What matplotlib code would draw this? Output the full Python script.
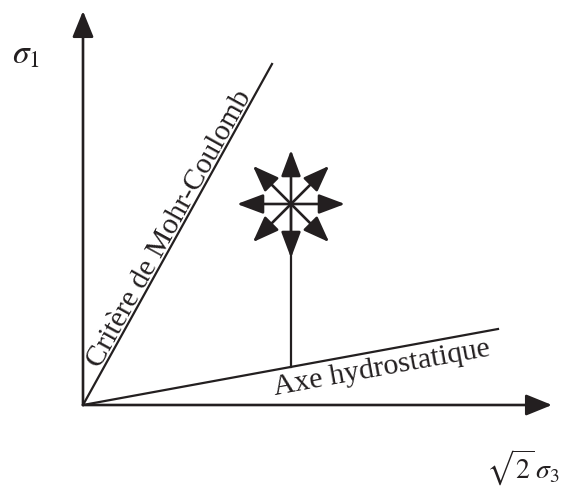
import numpy as np
import matplotlib.pyplot as plt

plt.rcParams['font.family'] = ['Liberation Serif', 'DejaVu Serif']
plt.rcParams['mathtext.fontset'] = 'stix'

# schema en coordonnees locales (origine = intersection des axes)
axe_x_fin = 469
axe_y_fin = 394
mohr_fin = (189, 341)
hydro_fin = (415, 76)
point_x = 208
etoile_y = 201
etoile_angles = [0, 45, 90, 135, 180, 225, 270, 315]
etoile_long = 54

label_s1 = r'$\sigma_1$'
label_s3 = r'$\sqrt{2}\,\sigma_3$'
label_mohr = 'Critère de Mohr-Coulomb'
label_hydro = 'Axe hydrostatique'

noir = '#231f20'

fig = plt.figure(figsize=(5.66, 4.89), dpi=100)
ax = fig.add_axes([0, 0, 1, 1])
ax.set_xlim(-83, 483)
ax.set_ylim(-83, 406)
ax.set_aspect('equal')
ax.axis('off')


def fleche(x0, y0, x1, y1, hl=1.6, hw=0.65):
    ax.annotate('', xy=(x1, y1), xytext=(x0, y0),
                arrowprops=dict(arrowstyle='-|>,head_length=%s,head_width=%s' % (hl, hw),
                                lw=1.9, color=noir, shrinkA=0, shrinkB=0,
                                mutation_scale=10))


# axes
fleche(0, 0, 0, axe_y_fin)
fleche(0, 0, axe_x_fin, 0)

# droites
ax.plot([0, mohr_fin[0]], [0, mohr_fin[1]], color=noir, lw=1.6)
ax.plot([0, hydro_fin[0]], [0, hydro_fin[1]], color=noir, lw=1.6)

# segment vertical depuis l'axe hydrostatique
y_bas = hydro_fin[1] / hydro_fin[0] * point_x
ax.plot([point_x, point_x], [y_bas, etoile_y], color=noir, lw=1.6)

# etoile de fleches
for a in etoile_angles:
    r = np.deg2rad(a)
    fleche(point_x, etoile_y, point_x + etoile_long * np.cos(r),
           etoile_y + etoile_long * np.sin(r), hl=1.6, hw=0.6)

# textes le long des droites
ang_m = np.degrees(np.arctan2(mohr_fin[1], mohr_fin[0]))
u = np.array(mohr_fin) / np.hypot(*mohr_fin)
n = np.array([-u[1], u[0]])
p = u * 197 + n * 3
ax.text(p[0], p[1], label_mohr, rotation=ang_m, rotation_mode='anchor',
        ha='center', va='baseline', fontsize=21.5, color=noir)

ang_h = np.degrees(np.arctan2(hydro_fin[1], hydro_fin[0]))
u = np.array(hydro_fin) / np.hypot(*hydro_fin)
n = np.array([-u[1], u[0]])
p = u * 301 - n * 4
ax.text(p[0], p[1], label_hydro, rotation=ang_h, rotation_mode='anchor',
        ha='center', va='top', fontsize=21.5, color=noir)

ax.text(-71, 351, label_s1, fontsize=24, ha='left', va='center', color=noir)
ax.text(477, -62, label_s3, fontsize=20, ha='right', va='center', color=noir)

fig.savefig('out.png', dpi=100)
